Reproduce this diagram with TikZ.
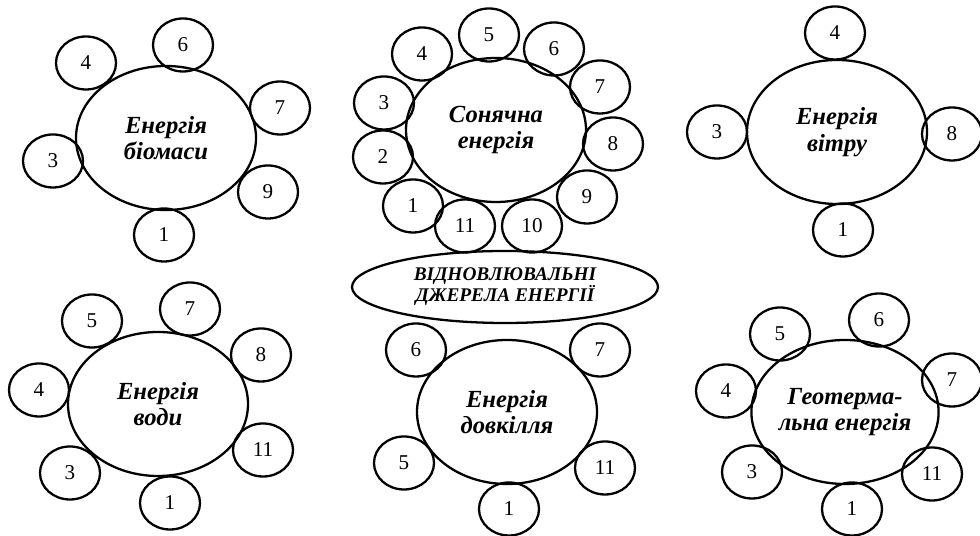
\documentclass[tikz,border=0pt]{standalone}
\usepackage{fontspec}
\setmainfont{Liberation Serif}
\usetikzlibrary{shapes.geometric}

\tikzset{
  num/.style={draw, ellipse, line width=1.3pt, minimum width=1.2cm, minimum height=1.06cm,
    inner sep=0pt, font=\fontsize{12}{14}\selectfont},
  src/.style={draw, ellipse, line width=1.3pt, minimum width=3.6cm, minimum height=2.88cm,
    inner sep=0pt, align=center, font=\fontsize{14}{15}\selectfont\bfseries\itshape},
}

\begin{document}
\begin{tikzpicture}

\useasboundingbox (0,0) rectangle (19.6,10.72);

\begin{scope}[shift={(3.32,7.96)}]
\node[src] (bio) at (0,0) {Енергія\\біомаси};
\node[num] (bio6) at (0.34,1.86) {6};
\node[num] (bio4) at (-1.6,1.5) {4};
\node[num] (bio7) at (2.28,0.6) {7};
\node[num] (bio3) at (-2.26,-0.46) {3};
\node[num] (bio9) at (2.04,-1.08) {9};
\node[num] (bio1) at (-0.04,-1.94) {1};
\end{scope}

\begin{scope}[shift={(9.92,8.12)}]
\node[src] (sun) at (0,0) {Сонячна\\енергія};
\node[num] (sun5) at (-0.14,1.9) {5};
\node[num] (sun4) at (-1.48,1.52) {4};
\node[num] (sun6) at (1.16,1.62) {6};
\node[num] (sun3) at (-2.24,0.54) {3};
\node[num] (sun7) at (2.08,0.86) {7};
\node[num] (sun2) at (-2.26,-0.54) {2};
\node[num] (sun8) at (2.34,-0.28) {8};
\node[num] (sun1) at (-1.66,-1.52) {1};
\node[num] (sun9) at (1.82,-1.34) {9};
\node[num] (sun11) at (-0.62,-1.92) {11};
\node[num] (sun10) at (0.72,-1.92) {10};
\end{scope}

\begin{scope}[shift={(16.74,8.08)}]
\node[src] (wind) at (0,0) {Енергія\\вітру};
\node[num] (wind4) at (-0.04,1.98) {4};
\node[num] (wind3) at (-2.4,0) {3};
\node[num] (wind8) at (2.3,-0.04) {8};
\node[num] (wind1) at (0.12,-1.96) {1};
\end{scope}

\node[draw, ellipse, line width=1.3pt, minimum width=6.12cm, minimum height=1.44cm,
  inner sep=0pt, align=center, font=\fontsize{11}{12}\selectfont\bfseries\itshape]
  (res) at (10.1,4.98) {ВІДНОВЛЮВАЛЬНІ\\ДЖЕРЕЛА ЕНЕРГІЇ};

\begin{scope}[shift={(3.16,2.64)}]
\node[src] (water) at (0,0) {Енергія\\води};
\node[num] (water5) at (-1.32,1.66) {5};
\node[num] (water7) at (0.64,1.9) {7};
\node[num] (water8) at (2.06,0.98) {8};
\node[num] (water4) at (-2.38,0.28) {4};
\node[num] (water11) at (2.1,-0.92) {11};
\node[num] (water3) at (-1.76,-1.38) {3};
\node[num] (water1) at (0.24,-1.98) {1};
\end{scope}

\begin{scope}[shift={(10.14,2.48)}]
\node[src] (env) at (0,0) {Енергія\\довкілля};
\node[num] (env6) at (-1.82,1.24) {6};
\node[num] (env7) at (1.86,1.24) {7};
\node[num] (env5) at (-2.06,-1.02) {5};
\node[num] (env11) at (1.96,-1.12) {11};
\node[num] (env1) at (0.04,-1.94) {1};
\end{scope}

\begin{scope}[shift={(16.9,2.48)}]
\node[src] (geo) at (0,0) {Геотерма-\\льна енергія};
\node[num] (geo5) at (-1.3,1.56) {5};
\node[num] (geo6) at (0.68,1.84) {6};
\node[num] (geo7) at (2.14,0.64) {7};
\node[num] (geo4) at (-2.38,0.42) {4};
\node[num] (geo3) at (-1.86,-1.2) {3};
\node[num] (geo11) at (1.74,-1.24) {11};
\node[num] (geo1) at (0.14,-1.94) {1};
\end{scope}

\end{tikzpicture}
\end{document}
